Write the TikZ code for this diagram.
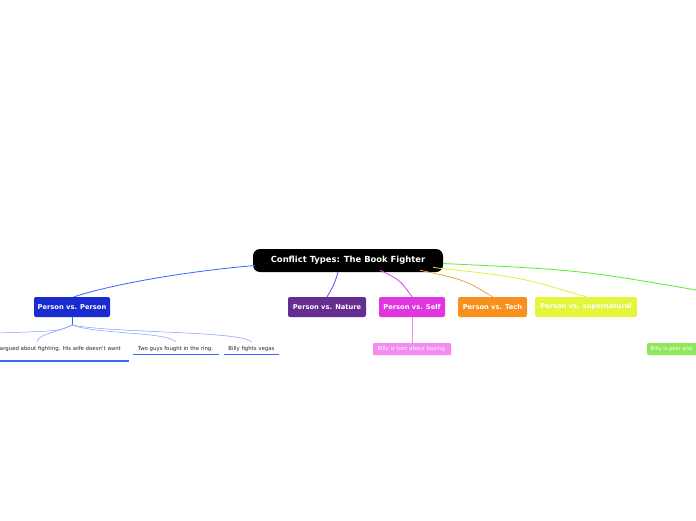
\documentclass[tikz,border=0pt]{standalone}
\usepackage{fontspec}
\setmainfont{DejaVu Sans}
\usetikzlibrary{calc}
\definecolor{cpvp}{HTML}{1A2CCF}
\definecolor{cnat}{HTML}{662D91}
\definecolor{cself}{HTML}{E135E1}
\definecolor{ctech}{HTML}{F7901E}
\definecolor{csup}{HTML}{E5F53C}
\definecolor{cselfkid}{HTML}{F28BF2}
\definecolor{cgreenkid}{HTML}{8FE85A}
\definecolor{lblue}{HTML}{3366FF}
\definecolor{llblue}{HTML}{7F9CFF}
\definecolor{ublue}{HTML}{3A68FF}
\definecolor{lpurple}{HTML}{7B3CF0}
\definecolor{lmag}{HTML}{E040E8}
\definecolor{lorange}{HTML}{F7A040}
\definecolor{lyellow}{HTML}{E0F040}
\definecolor{lgreen}{HTML}{55EE33}
\begin{document}
\begin{tikzpicture}[x=1pt,y=-1pt,
  mainbox/.style={fill=black, text=white, font=\bfseries\fontsize{8.4}{9}\selectfont,
    rounded corners=7pt, minimum width=190pt, minimum height=23pt, inner sep=0pt},
  topic/.style={rounded corners=2pt, text=white, font=\bfseries\fontsize{6.7}{7.5}\selectfont,
    minimum height=20pt, inner sep=0pt},
  kidbox/.style={rounded corners=1pt, minimum height=12pt, inner sep=0pt},
  kidtext/.style={text=white, font=\fontsize{5.4}{6}\selectfont, inner sep=0pt},
  sub/.style={font=\fontsize{5.4}{6}\selectfont, text=black!85, inner sep=0pt},
  conn/.style={line width=0.8pt},
  thin/.style={line width=0.5pt, draw=llblue},
  uline/.style={line width=1.3pt, draw=ublue}
]
\useasboundingbox (0,0) rectangle (696,520);
\fill[white] (0,0) rectangle (696,520);

% nodes
\node[mainbox] (c) at (348,260.5) {Conflict Types: The Book Fighter};
\node[topic, fill=cpvp, minimum width=76pt] (pvp) at (72,307) {Person vs. Person};
\node[topic, fill=cnat, minimum width=78pt] (nat) at (327,307) {Person vs. Nature};
\node[topic, fill=cself, minimum width=66pt] (self) at (412,307) {Person vs. Self};
\node[topic, fill=ctech, minimum width=69pt] (tech) at (492.5,307) {Person vs. Tech};
\node[topic, fill=csup, minimum width=102pt] (sup) at (586,307) {Person vs. supernatural};

\node[kidbox, fill=cselfkid, minimum width=78pt] (selfkid) at (412,349) {};
\node[kidtext] (selfkidt) at (selfkid.center) {Billy is torn about boxing.};
\node[kidbox, fill=cgreenkid, minimum width=60pt, anchor=west] (greenkid) at (647,349) {};
\node[kidtext, anchor=west, font=\fontsize{5.2}{6}\selectfont] (greenkidt) at (650.5,349) {Billy is poor and};

\node[sub, anchor=east] (k1) at (121,349) {argued about fighting. His wife doesn’t want};
\node[sub] (k2) at (175.5,349) {Two guys fought in the ring.};
\node[sub] (k3) at (251.5,349) {Billy fights vegas};
\coordinate (u1a) at (-5,361);
\coordinate (u1b) at (129,361);
\coordinate (u2a) at (133,354.5);
\coordinate (u2b) at (219,354.5);
\coordinate (u3a) at (224,354.5);
\coordinate (u3b) at (279,354.5);
\draw[uline] (u1a) -- (u1b);
\draw[uline] (u2a) -- (u2b);
\draw[uline] (u3a) -- (u3b);

% connectors from center
\draw[conn, draw=lblue] ($(c.west)+(2,5)$) .. controls (180,272) and (110,285) .. ($(pvp.north)+(2,0)$);
\draw[conn, draw=lpurple] ($(c.south)+(-10,0)$) .. controls (334,285) .. (nat.north);
\draw[conn, draw=lmag] ($(c.south)+(32,-2)$) .. controls (400,280) .. (self.north);
\draw[conn, draw=lorange] ($(c.south)+(72,-2)$) .. controls (465,280) .. (tech.north);
\draw[conn, draw=lyellow] ($(c.east)+(-10,7)$) .. controls (520,277) .. (sup.north);
\coordinate (gend) at (702,291);
\draw[conn, draw=lgreen] ($(c.east)+(0,3)$) .. controls (580,270) .. (gend);

% Person vs. Person children
\coordinate (stem) at (72,325);
\coordinate (offl) at (-4,333);
\coordinate (k1top) at (37,342);
\coordinate (k2top) at (175.5,342);
\coordinate (k3top) at (251.5,342);
\draw[line width=0.8pt, draw=lblue] (pvp.south) -- (stem);
\draw[thin] (stem) .. controls (60,331) .. (offl);
\draw[thin] (stem) .. controls (55,333) and (38,334) .. (k1top);
\draw[thin] (stem) .. controls (95,334) and (170,332) .. (k2top);
\draw[thin] (stem) .. controls (110,333) and (245,331) .. (k3top);

% Person vs. Self child
\draw[line width=0.8pt, draw=cselfkid] (self.south) -- (selfkid.north);
\end{tikzpicture}
\end{document}
